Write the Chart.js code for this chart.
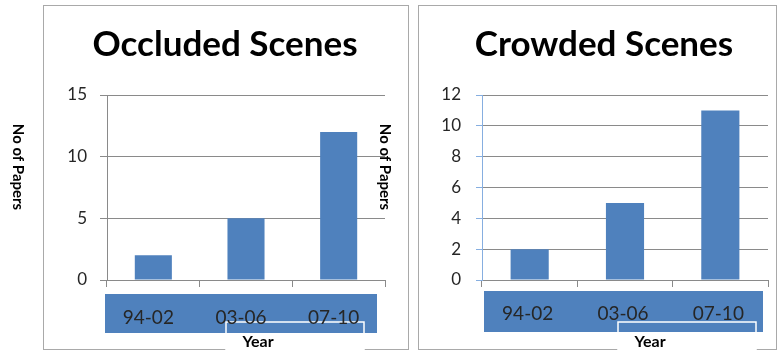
<!DOCTYPE html>
<html>
<head>
<meta charset="utf-8">
<title>No of Papers by Year</title>
<script src="https://cdn.jsdelivr.net/npm/chart.js@4.4.1/dist/chart.umd.min.js"></script>
<style>
  html, body { margin: 0; padding: 0; background: #fff; width: 778px; height: 351px; overflow: hidden; }
  .panel { position: absolute; border: 1.5px solid #a9a9a9; box-sizing: border-box; }
  canvas { position: absolute; top: 0; }
</style>
</head>
<body>
<div class="panel" style="left:43px; top:5px; width:366px; height:345px;"></div>
<div class="panel" style="left:418px; top:5px; width:359px; height:345px;"></div>
<canvas id="occluded" width="450" height="351" style="left:0; width:450px; height:351px;"></canvas>
<canvas id="crowded" width="408" height="351" style="left:370px; width:408px; height:351px;"></canvas>
<script>
// Year ranges on the x axis
const years = ['94-02', '03-06', '07-10'];
// Number of papers per period
const occludedPapers = [2, 5, 12];
const crowdedPapers = [2, 5, 11];
// Value axis tick labels
const occludedTicks = [0, 5, 10, 15];
const crowdedTicks = [0, 2, 4, 6, 8, 10, 12];

const FONT = 'Lato, "Open Sans", sans-serif';
const BAR = '#4f81bd';
const GRID = '#8a8a8a';
const INK = '#262626';

// Blue band behind the category labels, the white text-box frame,
// the "Year" caption and the vertical "No of Papers" caption.
const panelDecor = {
  id: 'panelDecor',
  beforeDraw(chart, args, o) {
    const { ctx } = chart;
    const x = chart.scales.x;
    ctx.save();
    const bl = x.left + o.band.left;
    const br = x.right + o.band.right;
    ctx.fillStyle = BAR;
    ctx.fillRect(bl, o.band.top, br - bl, o.band.bottom - o.band.top);
    // white frame of the caption box
    ctx.fillStyle = '#fff';
    ctx.fillRect(o.box.left, o.band.bottom, o.box.right - o.box.left, chart.height - o.band.bottom);
    ctx.strokeStyle = '#fff';
    ctx.lineWidth = 1.5;
    ctx.strokeRect(o.box.left, o.box.top, o.box.right - o.box.left, chart.height - o.box.top + 4);
    ctx.restore();
  },
  afterDraw(chart, args, o) {
    const { ctx } = chart;
    ctx.save();
    ctx.fillStyle = '#000';
    ctx.textAlign = 'center';
    ctx.textBaseline = 'middle';
    ctx.font = 'bold 16px ' + FONT;
    ctx.fillText('Year', o.yearX, o.yearY);
    ctx.translate(o.yTitle.x, o.yTitle.y);
    ctx.rotate(Math.PI / 2);
    ctx.font = 'bold 15px ' + FONT;
    ctx.fillText('No of Papers', 0, 0);
    ctx.restore();
  }
};

function buildChart(id, o) {
  return new Chart(document.getElementById(id), {
    type: 'bar',
    data: {
      labels: years,
      datasets: [{
        data: o.values,
        backgroundColor: BAR,
        borderWidth: 0,
        barPercentage: 0.4,
        categoryPercentage: 1,
        xAxisID: 'x',
        yAxisID: 'y'
      }]
    },
    options: {
      responsive: false,
      animation: false,
      devicePixelRatio: 1,
      layout: { padding: { left: o.padLeft, right: 0, top: 0, bottom: 0 } },
      plugins: {
        legend: { display: false },
        tooltip: { enabled: false },
        title: {
          display: true,
          text: o.title,
          color: '#000',
          font: { family: FONT, size: 35, weight: 'bold', lineHeight: 1.2 },
          padding: { top: 24, bottom: 29 }
        },
        panelDecor: o.decor
      },
      scales: {
        x: {
          grid: { drawOnChartArea: false, drawTicks: true, tickLength: 7, color: GRID, offset: true },
          border: { color: GRID },
          ticks: { font: { family: FONT, size: 19 }, color: INK, padding: o.xPad, labelOffset: o.labelShift },
          afterFit: s => { s.height = 71; }
        },
        y: {
          type: 'linear',
          position: 'left',
          min: o.ticks[0],
          max: o.ticks[o.ticks.length - 1],
          ticks: {
            stepSize: o.ticks[1] - o.ticks[0],
            font: { family: FONT, size: 17 },
            color: INK,
            padding: o.yPad
          },
          grid: { color: GRID, tickLength: o.yTick, tickColor: o.axisColor },
          border: { color: o.axisColor },
          afterFit: s => { s.width = o.yWidth; }
        },
        pad: {
          type: 'linear',
          position: 'right',
          display: true,
          grid: { display: false },
          border: { display: false },
          ticks: { display: false },
          afterFit: s => { s.width = o.padRight; }
        }
      }
    },
    plugins: [panelDecor]
  });
}

function drawAll() {
  buildChart('occluded', {
    title: 'Occluded Scenes',
    values: occludedPapers,
    ticks: occludedTicks,
    padLeft: 0,
    yWidth: 107,
    padRight: 65,
    yTick: 7,
    yPad: 13,
    xPad: 19,
    labelShift: -5,
    axisColor: GRID,
    decor: {
      band: { left: -2, right: -8, top: 294, bottom: 333 },
      box: { left: 226, right: 364, top: 322 },
      yearX: 258, yearY: 342,
      yTitle: { x: 18, y: 167 }
    }
  });
  buildChart('crowded', {
    title: 'Crowded Scenes',
    values: crowdedPapers,
    ticks: crowdedTicks,
    padLeft: 60,
    yWidth: 52,
    padRight: 10,
    yTick: 6,
    yPad: 15,
    xPad: 15,
    labelShift: -2,
    axisColor: '#86aee0',
    decor: {
      band: { left: 2, right: -5, top: 291, bottom: 332 },
      box: { left: 248, right: 386, top: 322 },
      yearX: 280, yearY: 342,
      yTitle: { x: 15, y: 167 }
    }
  });
}

if (document.fonts && document.fonts.load) {
  Promise.all([
    document.fonts.load('bold 35px Lato'),
    document.fonts.load('19px Lato'),
    document.fonts.load('bold 15px Lato')
  ]).then(drawAll, drawAll);
} else {
  drawAll();
}
</script>
</body>
</html>
